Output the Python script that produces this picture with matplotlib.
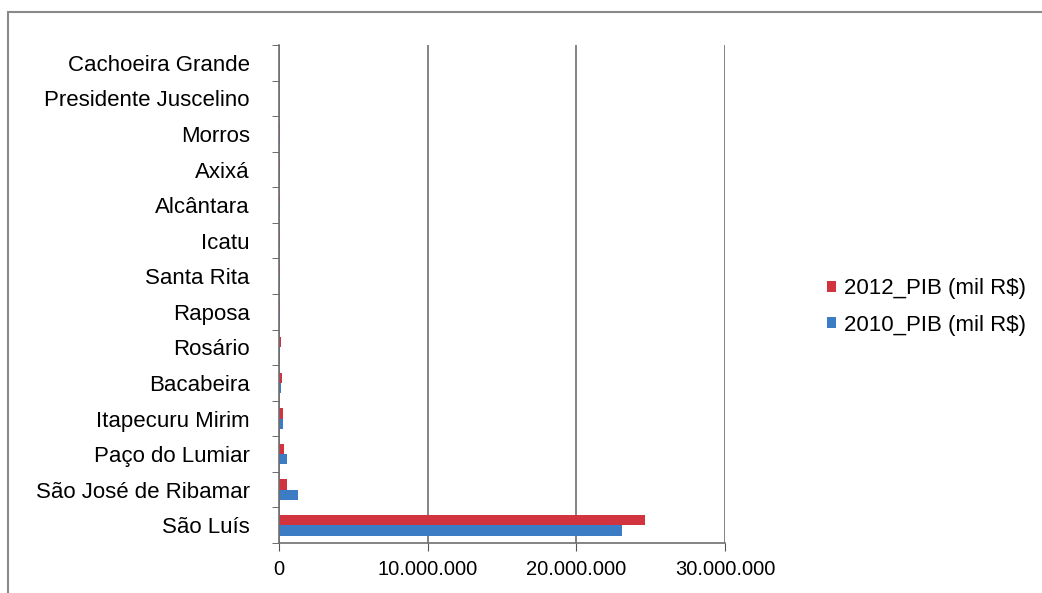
import matplotlib
matplotlib.use("Agg")
import matplotlib.pyplot as plt
import numpy as np
from matplotlib.patches import Rectangle
from matplotlib.ticker import FuncFormatter, MultipleLocator

plt.rcParams["font.family"] = ["Liberation Sans", "DejaVu Sans"]

# municipalities, top to bottom as they appear on the axis
municipios = ["Cachoeira Grande", "Presidente Juscelino", "Morros", "Axixá",
              "Alcântara", "Icatu", "Santa Rita", "Raposa", "Rosário",
              "Bacabeira", "Itapecuru Mirim", "Paço do Lumiar",
              "São José de Ribamar", "São Luís"]
# PIB in mil R$
pib_2012 = [25000, 30000, 45000, 40000, 60000, 55000, 95000, 70000, 120000,
            180000, 260000, 340000, 560000, 24600000]
pib_2010 = [20000, 25000, 40000, 35000, 50000, 45000, 80000, 60000, 100000,
            150000, 250000, 520000, 1280000, 23100000]

C_2012 = "#d2343f"
C_2010 = "#3b7cc4"

fig = plt.figure(figsize=(10.42, 5.93), dpi=100)
fig.patches.append(Rectangle((8 / 1042, -0.1), 1.2, 1 - 12 / 593 + 0.1,
                             transform=fig.transFigure, fill=False,
                             edgecolor="#8a8a8a", linewidth=1.5))
ax = fig.add_axes([279 / 1042, 50 / 593, (725 - 279) / 1042, (543 - 45) / 593])

y = np.arange(len(municipios))[::-1]
h = 0.29
ax.barh(y + h / 2, pib_2012, height=h, color=C_2012, label="2012_PIB (mil R$)")
ax.barh(y - h / 2, pib_2010, height=h, color=C_2010, label="2010_PIB (mil R$)")

ax.set_ylim(-0.5, len(municipios) - 0.5)
ax.set_xlim(0, 30000000)
ax.set_yticks(y)
ax.set_yticklabels(municipios, fontsize=16)
ax.set_yticks(np.arange(-0.5, len(municipios), 1), minor=True)
ax.tick_params(axis="y", which="major", length=0, pad=21)
ax.tick_params(axis="y", which="minor", length=5, color="#555555")
ax.xaxis.set_major_locator(MultipleLocator(10000000))
ax.xaxis.set_major_formatter(FuncFormatter(lambda v, _: f"{int(v):,}".replace(",", ".")))
ax.tick_params(axis="x", labelsize=14.5, length=6, color="#555555", pad=6)

ax.grid(axis="x", color="#6e6e6e", linewidth=1.2)
ax.set_axisbelow(True)
for side, sp in ax.spines.items():
    sp.set_visible(side in ("bottom", "left"))
    sp.set_color("#6e6e6e")
    sp.set_linewidth(1.2)

fig.legend(loc="center left", bbox_to_anchor=(807 / 1042, 1 - 307 / 593),
           frameon=False, fontsize=16, handlelength=0.4, handleheight=0.4,
           handletextpad=0.35, labelspacing=0.7)

fig.savefig("out.png", dpi=100, facecolor="white")
